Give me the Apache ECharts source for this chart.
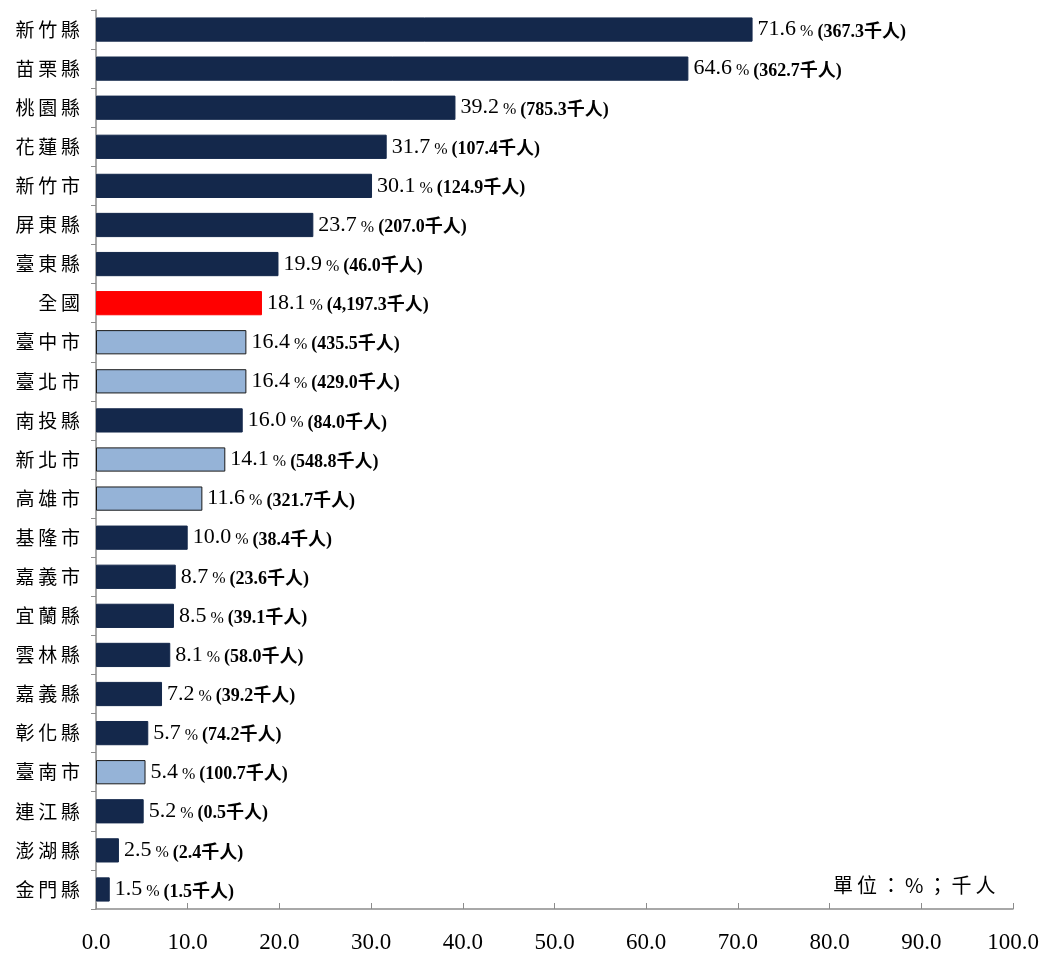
<!DOCTYPE html>
<html><head><meta charset="utf-8">
<script src="https://cdn.jsdelivr.net/npm/echarts@6/dist/echarts.min.js"></script>
<style>html,body{margin:0;padding:0;background:#fff}#c{width:1043px;height:956px}</style>
</head><body><div id="c"></div>
<script>
const categories = ['新竹縣','苗栗縣','桃園縣','花蓮縣','新竹市','屏東縣','臺東縣','全國','臺中市','臺北市','南投縣','新北市','高雄市','基隆市','嘉義市','宜蘭縣','雲林縣','嘉義縣','彰化縣','臺南市','連江縣','澎湖縣','金門縣'];
const percentValues = [71.6,64.6,39.2,31.7,30.1,23.7,19.9,18.1,16.4,16.4,16.0,14.1,11.6,10.0,8.7,8.5,8.1,7.2,5.7,5.4,5.2,2.5,1.5];
const thousandPeople = ['367.3','362.7','785.3','107.4','124.9','207.0','46.0','4,197.3','435.5','429.0','84.0','548.8','321.7','38.4','23.6','39.1','58.0','39.2','74.2','100.7','0.5','2.4','1.5'];
const groups = ['c','c','c','c','c','c','c','n','m','m','c','m','m','c','c','c','c','c','c','m','c','c','c'];
const xTicks = [0,10,20,30,40,50,60,70,80,90,100];
const unitText = '單位：%；千人';

const colors = {c:'#14284B', m:'#95B3D7', n:'#FF0000'};
const borders = {c:'#14284B', m:'#1a1a1a', n:'#FF0000'};
const serif = '"Liberation Serif","Noto Sans CJK TC",serif';
const spaced = s => s.split('').join('\u2009');

const chart = echarts.init(document.getElementById('c'), null, {renderer:'canvas'});
chart.setOption({
  animation:false,
  grid:{left:96,right:30,top:10,bottom:47,containLabel:false},
  xAxis:{type:'value',min:xTicks[0],max:xTicks[xTicks.length-1],interval:10,
    axisLine:{show:true,lineStyle:{color:'#8c8c8c',width:1.5}},
    axisTick:{show:true,inside:true,length:6,lineStyle:{color:'#8c8c8c'}},
    splitLine:{show:false},
    axisLabel:{margin:22,fontFamily:serif,fontSize:23,color:'#000',formatter:v=>v.toFixed(1)}},
  yAxis:{type:'category',data:categories,inverse:true,
    axisLine:{show:true,lineStyle:{color:'#8c8c8c',width:1.5}},
    axisTick:{show:true,length:5,lineStyle:{color:'#8c8c8c'}},
    axisLabel:{margin:16,fontFamily:'"Noto Sans CJK TC",serif',fontSize:19,color:'#000',formatter:v=>spaced(v)}},
  series:[{type:'bar',barCategoryGap:'38%',
    data:percentValues.map((v,i)=>({value:v,itemStyle:{color:colors[groups[i]],borderColor:borders[groups[i]],borderWidth:1}})),
    label:{show:true,position:'right',distance:5,
      formatter:p=>'{v|'+percentValues[p.dataIndex].toFixed(1)+'}{p| % }{b|('+thousandPeople[p.dataIndex]+'千人)}',
      rich:{v:{fontFamily:serif,fontSize:22,color:'#000'},
            p:{fontFamily:serif,fontSize:16,color:'#000',padding:[5,0,0,0]},
            b:{fontFamily:serif,fontSize:18,fontWeight:'bold',color:'#000',padding:[5,0,0,0]}}}
  }],
  graphic:[{type:'text',left:833,top:875,style:{text:spaced(unitText),font:'20px "Noto Sans CJK TC"',fill:'#000'}}]
});
</script></body></html>
